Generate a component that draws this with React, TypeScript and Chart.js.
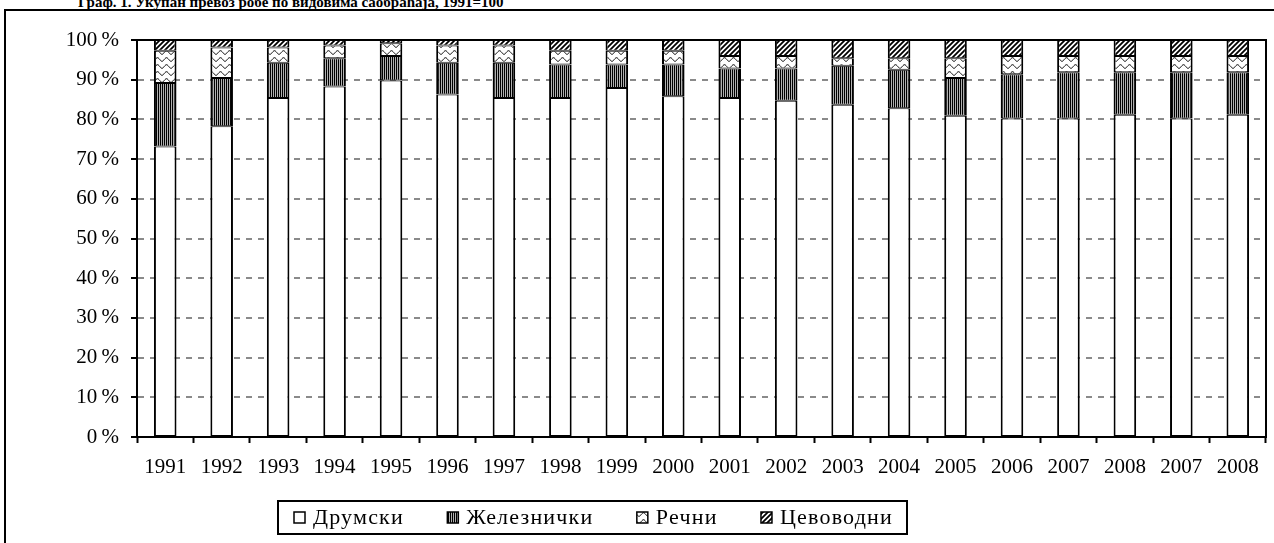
import React, { useEffect, useRef } from "react";
import { Chart, registerables } from "chart.js";
Chart.register(...registerables);

const categories = ["1991", "1992", "1993", "1994", "1995", "1996", "1997", "1998", "1999", "2000", "2001", "2002", "2003", "2004", "2005", "2006", "2007", "2008", "2007", "2008"];
const seriesNames = ["Друмски", "Железнички", "Речни", "Цевоводни"];
const road = [73.2, 78.3, 85.4, 88.3, 89.8, 86.3, 85.4, 85.4, 87.9, 85.8, 85.4, 84.7, 83.7, 82.8, 80.9, 80.2, 80.2, 81.2, 80.2, 81.2];
const rail = [16.0, 12.1, 8.9, 7.1, 6.2, 8.0, 8.9, 8.4, 5.9, 8.0, 7.4, 8.1, 9.8, 9.7, 9.5, 11.2, 11.7, 10.7, 11.7, 10.7];
const river = [8.1, 7.7, 3.8, 3.2, 3.2, 4.3, 4.3, 3.5, 3.5, 3.5, 3.2, 3.2, 1.9, 2.9, 5.0, 4.6, 4.1, 4.1, 4.1, 4.1];
const pipe = [2.7, 1.9, 1.9, 1.4, 0.8, 1.4, 1.4, 2.7, 2.7, 2.7, 4.0, 4.0, 4.6, 4.6, 4.6, 4.0, 4.0, 4.0, 4.0, 4.0];
const yTickLabels = ["0\u2009%", "10\u2009%", "20\u2009%", "30\u2009%", "40\u2009%", "50\u2009%", "60\u2009%", "70\u2009%", "80\u2009%", "90\u2009%", "100\u2009%"];
const titleText = "Граф. 1. Укупан превоз робе по видовима саобраћаја, 1991=100";

const FONT = '"Liberation Serif", "Times New Roman", serif';

function tile(ctx: CanvasRenderingContext2D, w: number, h: number, draw: (g: CanvasRenderingContext2D) => void): CanvasPattern {
  const c = document.createElement("canvas");
  c.width = w;
  c.height = h;
  const g = c.getContext("2d")!;
  g.fillStyle = "#fff";
  g.fillRect(0, 0, w, h);
  draw(g);
  return ctx.createPattern(c, "repeat")!;
}

export default function App() {
  const ref = useRef<HTMLCanvasElement>(null);

  useEffect(() => {
    const canvas = ref.current!;
    const ctx = canvas.getContext("2d")!;

    const roadFill = "#ffffff";
    const railFill = tile(ctx, 2, 1, (g) => {
      g.fillStyle = "#000";
      g.fillRect(0, 0, 1, 1);
      g.fillStyle = "#b0b0b0";
      g.fillRect(1, 0, 1, 1);
    });
    const riverFill = tile(ctx, 9, 7, (g) => {
      g.strokeStyle = "#000";
      g.lineWidth = 1;
      g.beginPath();
      for (let x = -1; x <= 10; x += 0.5) {
        const y = 3.5 + 1.8 * Math.cos((2 * Math.PI * x) / 9);
        if (x === -1) g.moveTo(x, y);
        else g.lineTo(x, y);
      }
      g.stroke();
    });
    const pipeFill = tile(ctx, 5, 5, (g) => {
      g.strokeStyle = "#000";
      g.lineWidth = 1.8;
      g.beginPath();
      g.moveTo(-1, 6);
      g.lineTo(6, -1);
      g.moveTo(-1, 1);
      g.lineTo(1, -1);
      g.moveTo(4, 6);
      g.lineTo(6, 4);
      g.stroke();
    });
    const fills = [roadFill, railFill, riverFill, pipeFill];
    const seriesData = [road, rail, river, pipe];

    const framePlugin = {
      id: "frameLegend",
      afterDatasetsDraw(chart: any) {
        const { ctx: c, chartArea: a } = chart;
        c.save();
        c.strokeStyle = "#000";
        c.lineWidth = 2;
        c.beginPath();
        c.moveTo(a.left, a.top);
        c.lineTo(a.right, a.top);
        c.lineTo(a.right, a.bottom);
        c.stroke();
        c.restore();
      },
      afterDraw(chart: any) {
        const c: CanvasRenderingContext2D = chart.ctx;
        c.save();
        const size = 22;
        c.font = `${size}px ${FONT}`;
        (c as any).letterSpacing = "1.2px";
        const marker = 11;
        const gapMT = 8;
        const boxL = 278, boxR = 907, boxT = 501, boxB = 534;
        const padL = 16, padR = 14;
        const widths = seriesNames.map((n) => c.measureText(n).width);
        const content = widths.reduce((s, w) => s + marker + gapMT + w, 0);
        const gapItems = (boxR - boxL - padL - padR - content) / (seriesNames.length - 1);
        c.strokeStyle = "#000";
        c.lineWidth = 2;
        c.strokeRect(boxL, boxT, boxR - boxL, boxB - boxT);
        const cy = (boxT + boxB) / 2;
        let x = boxL + padL;
        seriesNames.forEach((n, i) => {
          c.fillStyle = fills[i] as any;
          c.fillRect(x, cy - marker / 2, marker, marker);
          c.lineWidth = 1.5;
          c.strokeStyle = "#000";
          c.strokeRect(x, cy - marker / 2, marker, marker);
          c.fillStyle = "#000";
          c.textBaseline = "middle";
          c.textAlign = "left";
          c.fillText(n, x + marker + gapMT, cy + 1);
          x += marker + gapMT + widths[i] + gapItems;
        });
        c.restore();
      },
    };

    const chart = new Chart(canvas, {
      type: "bar",
      data: {
        labels: categories,
        datasets: seriesNames.map((name, i) => ({
          label: name,
          data: seriesData[i],
          backgroundColor: fills[i] as any,
          borderColor: "#000",
          borderWidth: { top: 1, bottom: 1, left: 2, right: 2 },
          borderSkipped: false,
          barPercentage: 0.4,
          categoryPercentage: 1,
        })),
      },
      options: {
        responsive: false,
        animation: false,
        devicePixelRatio: 1,
        layout: { padding: { left: 0, top: 40, right: 8, bottom: 46 } },
        plugins: {
          legend: { display: false },
          tooltip: { enabled: false },
          title: { display: false },
        },
        scales: {
          x: {
            stacked: true,
            offset: true,
            grid: {
              display: true,
              drawOnChartArea: false,
              drawTicks: true,
              tickLength: 6,
              tickColor: "#000",
              tickWidth: 2,
              offset: true,
            },
            border: { display: true, color: "#000", width: 2 },
            ticks: {
              color: "#000",
              font: { family: FONT, size: 21 },
              padding: 12,
              maxRotation: 0,
              minRotation: 0,
              autoSkip: false,
            },
            afterFit: (s: any) => {
              s.height = 60;
            },
          },
          y: {
            stacked: true,
            min: 0,
            max: 100,
            ticks: {
              stepSize: 10,
              color: "#000",
              font: { family: FONT, size: 21 },
              padding: 12,
              callback: (_v: any, i: number) => yTickLabels[i],
            },
            grid: {
              color: (c: any) => (c.tick && (c.tick.value === 0 || c.tick.value === 100) ? "rgba(0,0,0,0)" : "#8a8a8a"),
              lineWidth: 2,
              tickLength: 6,
              tickColor: "#000",
              tickWidth: 2,
            },
            border: { display: true, color: "#000", width: 2, dash: [6, 6] },
            afterFit: (s: any) => {
              s.width = 137;
            },
          },
        },
      },
      plugins: [framePlugin],
    } as any);

    return () => chart.destroy();
  }, []);

  return (
    <div style={{ position: "fixed", left: 0, top: 0, width: 1274, height: 543, overflow: "hidden", background: "#fff" }}>
      <div style={{ position: "absolute", left: 4, top: 9, width: 1300, height: 600, border: "2px solid #000", boxSizing: "border-box" }} />
      <div style={{ position: "absolute", left: 78, top: -8, fontFamily: FONT, fontWeight: "bold", fontSize: 15, lineHeight: "20px", whiteSpace: "nowrap", color: "#000" }}>
        {titleText}
      </div>
      <canvas ref={ref} width={1274} height={543} style={{ position: "absolute", left: 0, top: 0 }} />
    </div>
  );
}
